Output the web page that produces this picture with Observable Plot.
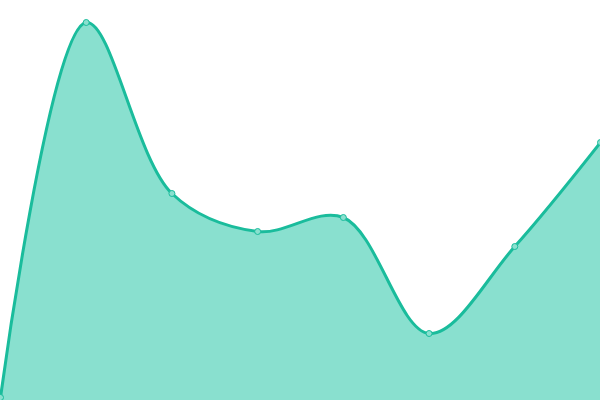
<!DOCTYPE html>
<html>
<head>
<meta charset="utf-8">
<script src="https://cdn.jsdelivr.net/npm/d3@7"></script>
<script src="https://cdn.jsdelivr.net/npm/@observablehq/plot@0.6"></script>
<style>
  html, body { margin: 0; padding: 0; background: #fff; overflow: hidden; }
  #chart svg { display: block; }
</style>
</head>
<body>
<div id="chart"></div>
<script>
const indices = [0, 1, 2, 3, 4, 5, 6, 7];
const values = [3, 378, 207, 169, 183, 67, 154, 258];

const data = indices.map((i, k) => ({x: i, y: values[k]}));

const chart = Plot.plot({
  width: 600,
  height: 400,
  margin: 0,
  x: {domain: [0, 7], axis: null},
  y: {domain: [0, 400], axis: null},
  marks: [
    Plot.areaY(data, {x: "x", y: "y", curve: "catmull-rom", fill: "#89e0cf"}),
    Plot.line(data, {x: "x", y: "y", curve: "catmull-rom", stroke: "#1abc9c", strokeWidth: 3}),
    Plot.dot(data, {x: "x", y: "y", r: 3, fill: "#8ae0cf", stroke: "#1abc9c", strokeWidth: 1})
  ]
});
document.getElementById("chart").appendChild(chart);
</script>
</body>
</html>
